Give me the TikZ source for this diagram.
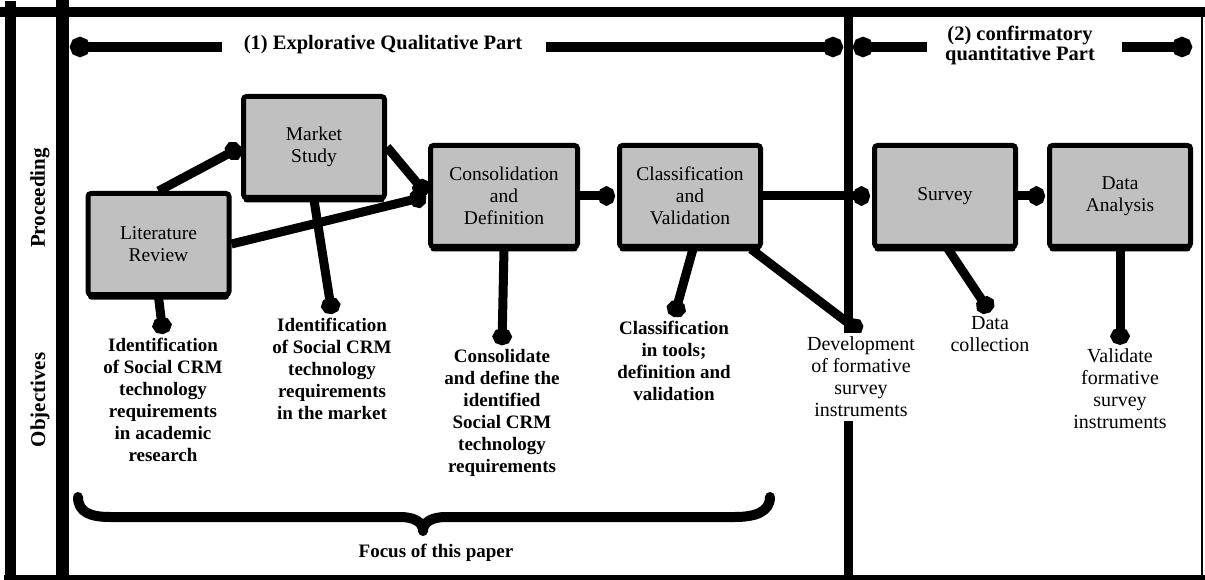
\documentclass[tikz,border=0pt]{standalone}
\usepackage{fontspec}
\setmainfont{Liberation Serif}
\usetikzlibrary{arrows.meta,shadows,backgrounds}
\definecolor{boxgray}{HTML}{C0C0C0}

\begin{document}
\begin{tikzpicture}[x=1pt,y=-1pt,
  stepbox/.style={draw=black, line width=5pt, fill=boxgray, rounded corners=3pt,
    minimum width=141pt, minimum height=101pt, align=center, inner sep=2pt,
    font=\fontsize{19.5}{22}\selectfont,
    drop shadow={shadow xshift=0pt, shadow yshift=-5pt, fill=black, opacity=1}},
  goal/.style={align=center, inner sep=4pt, font=\bfseries\fontsize{19}{22}\selectfont},
  plain/.style={align=center, inner sep=4pt, font=\fontsize{20}{22}\selectfont},
  heading/.style={align=center, inner sep=0pt, font=\bfseries\fontsize{20.5}{20}\selectfont},
  rowlabel/.style={rotate=90, inner sep=0pt, font=\bfseries\fontsize{21}{21}\selectfont},
  flow/.style={line width=9pt, -{Circle[length=17pt,width=19pt]}},
  phase/.style={line width=10pt, -{Circle[length=20pt,width=20pt]}},
  frame/.style={line width=#1, line cap=rect}
]
\useasboundingbox (0,0) rectangle (1205,580);

% process steps
\node[stepbox] (lit) at (158.5,244) {Literature\\Review};
\node[stepbox] (mkt) at (314,147) {Market\\Study};
\node[stepbox, minimum width=147pt] (cons) at (504,196) {Consolidation\\and\\Definition};
\node[stepbox] (cls) at (690,196) {Classification\\and\\Validation};
\node[stepbox] (srv) at (945,196) {Survey};
\node[stepbox] (dat) at (1120,196) {Data\\Analysis};

% objectives
\node[goal] (obj1) at (163,400) {Identification\\of Social CRM\\technology\\requirements\\in academic\\research};
\node[goal] (obj2) at (332,369) {Identification\\of Social CRM\\technology\\requirements\\in the market};
\node[goal] (obj3) at (502,413) {Consolidate\\and define the\\identified\\Social CRM\\technology\\requirements};
\node[goal] (obj4) at (674,361) {Classification\\in tools;\\definition and\\validation};
\node[plain, fill=white] (dev) at (861,377) {Development\\of formative\\survey\\instruments};
\node[plain] (coll) at (990,334) {Data\\collection};
\node[plain] (val) at (1120,389) {Validate\\formative\\survey\\instruments};

% phase headings
\node[heading] (ph1) at (383,45) {(1) Explorative Qualitative Part};
\node[heading] (ph2) at (1020,45) {(2) confirmatory\\quantitative Part};
\coordinate (p1a) at (222,47); \coordinate (p1b) at (70,47);
\coordinate (p1c) at (546,47); \coordinate (p1d) at (843,47);
\coordinate (p2a) at (927,47); \coordinate (p2b) at (853,47);
\coordinate (p2c) at (1122,47); \coordinate (p2d) at (1192,47);
\draw[phase] (p1a) -- (p1b);
\draw[phase] (p1c) -- (p1d);
\draw[phase] (p2a) -- (p2b);
\draw[phase] (p2c) -- (p2d);

% row labels
\node[rowlabel] (rowP) at (40,198) {Proceeding};
\node[rowlabel] (rowO) at (40,400) {Objectives};

% white page, phase divider and connectors behind the boxes
\begin{scope}[on background layer]
  \fill[white] (0,0) rectangle (1205,580);
  \coordinate (divtop) at (848,7);
  \coordinate (divbot) at (848,580);
  \draw[line width=9pt] (divtop) -- (divbot);
  \draw[flow] (lit.north) -- (mkt.west);
  \draw[flow, shorten >=2pt] (lit.east) -- (cons.west);
  \draw[flow, shorten >=2pt] (mkt.east) -- (cons.west);
  \draw[flow, shorten >=2pt] (cons.east) -- (cls.west);
  \draw[flow, shorten >=2pt] (cls.east) -- (srv.west);
  \draw[flow, shorten >=2pt] (srv.east) -- (dat.west);
  \draw[flow] (lit.south) -- (obj1.north);
  \draw[flow] (mkt.south) -- (obj2.north);
  \draw[flow] (cons.south) -- (obj3.north);
  \draw[flow] ([xshift=3pt]cls.south) -- (obj4.north);
  \draw[flow] ([xshift=-12pt]cls.south east) -- (dev.north);
  \draw[flow] ([xshift=3pt]srv.south) -- (coll.north);
  \draw[flow] (dat.south) -- (val.north);
\end{scope}

% brace marking the focus
\draw[line width=10pt, line cap=round, line join=round]
  (78,497) .. controls (78,512) and (90,517) .. (110,517) -- (400,517)
  .. controls (414,517) and (423,522) .. (423,531)
  .. controls (423,522) and (432,517) .. (446,517) -- (735,517)
  .. controls (755,517) and (770,512) .. (770,497);
\node[goal, inner sep=0pt] (focus) at (436,553) {Focus of this paper};

% outer frame and row-label column
\draw[frame=10pt] (4,12) -- (1205,12);
\draw[frame=11pt] (10,7) -- (10,580);
\draw[frame=13pt] (62,7) -- (62,580);
\draw[line width=2.5pt] (1202,12) -- (1202,580);
\draw[line width=5pt] (4,577.5) -- (1205,577.5);
\end{tikzpicture}
\end{document}
